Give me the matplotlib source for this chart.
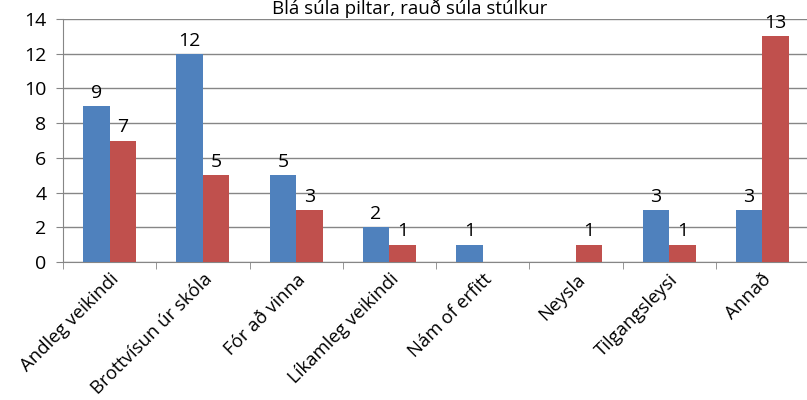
import matplotlib.pyplot as plt
import numpy as np

categories = ["Andleg veikindi", "Brottvísun úr skóla", "Fór að vinna", "Líkamleg veikindi",
              "Nám of erfitt", "Neysla", "Tilgangsleysi", "Annað"]
piltar = [9, 12, 5, 2, 1, 0, 3, 3]
stulkur = [7, 5, 3, 1, 0, 1, 1, 13]

BLUE = "#4F81BD"
RED = "#C0504D"
GRAY = "#868686"

plt.rcParams['font.family'] = ['Open Sans', 'DejaVu Sans']

fig = plt.figure(figsize=(8.07, 4.0), dpi=100)
ax = fig.add_axes([63/807, 138/400, 746/807, 243/400])

x = np.arange(len(categories))
w = 0.285
b1 = ax.bar(x - w/2, piltar, w, color=BLUE, zorder=3)
b2 = ax.bar(x + w/2, stulkur, w, color=RED, zorder=3)

for bars, vals in ((b1, piltar), (b2, stulkur)):
    for r, v in zip(bars, vals):
        if v > 0:
            ax.annotate(str(v), (r.get_x() + r.get_width()/2, v), xytext=(0, 3),
                        textcoords="offset points", ha="center", va="bottom", fontsize=14)

ax.set_ylim(0, 14)
ax.set_yticks(range(0, 15, 2))
ax.set_xlim(-0.5, 7.5)
ax.set_xticks(x)
ax.set_xticklabels(categories, rotation=45, ha="right", rotation_mode="anchor", fontsize=13.3)
ax.set_xticks(np.arange(-0.5, 8, 1), minor=True)
ax.tick_params(axis="x", which="major", length=0, pad=6)
ax.tick_params(axis="x", which="minor", length=5, color=GRAY)
ax.tick_params(axis="y", length=5, color=GRAY, labelsize=14, pad=7)

ax.grid(axis="y", color=GRAY, linewidth=1, zorder=0)
for s in ("top", "right"):
    ax.spines[s].set_visible(False)
for s in ("left", "bottom"):
    ax.spines[s].set_color(GRAY)

fig.text(0.508, 0.965, "Blá súla piltar, rauð súla stúlkur", ha="center", va="baseline", fontsize=13.5)

fig.savefig("out.png", dpi=100)
